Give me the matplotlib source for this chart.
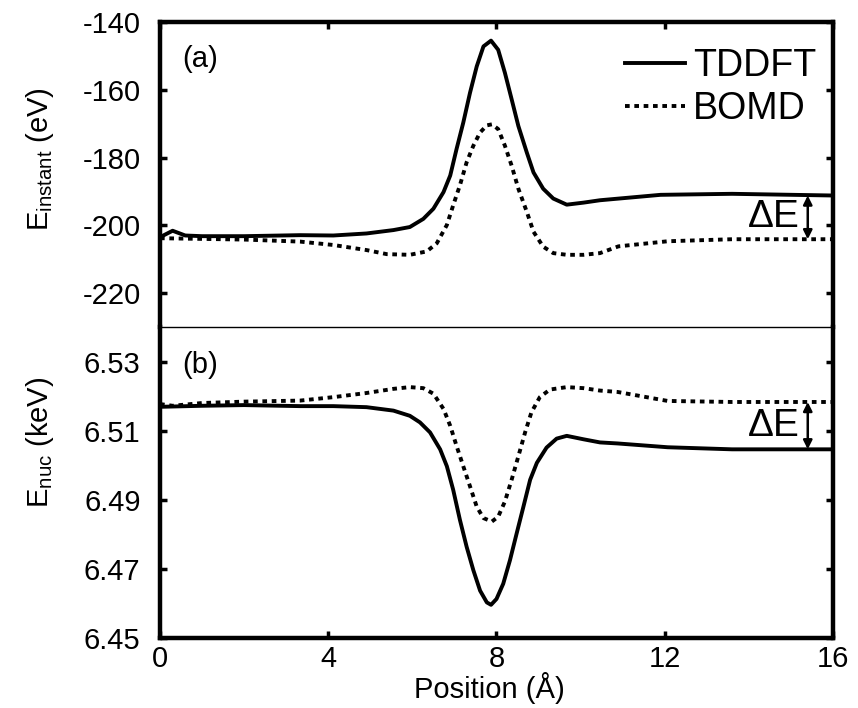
import numpy as np
import matplotlib
matplotlib.use("Agg")
import matplotlib.pyplot as plt

plt.rcParams['font.family'] = ['Liberation Sans', 'DejaVu Sans']
plt.rcParams['mathtext.fontset'] = 'custom'
plt.rcParams['mathtext.rm'] = 'Liberation Sans'
plt.rcParams['mathtext.it'] = 'Liberation Sans:italic'

# (a) instantaneous energy, eV
pos_a_td = [0, 0.3, 0.6, 1, 2, 3.33, 4.12, 4.91, 5.55, 5.94, 6.26, 6.50, 6.74,
            6.90, 7.05, 7.21, 7.37, 7.53, 7.69, 7.87, 8.04, 8.20, 8.36, 8.52,
            8.72, 8.88, 9.11, 9.35, 9.67, 10.07, 10.46, 11.9, 13.6, 16]
e_a_td = [-203.5, -201.6, -203.0, -203.2, -203.2, -202.9, -203.0, -202.4, -201.4,
          -200.5, -198.1, -195.1, -190.2, -185.3, -177.5, -169.7, -160.9, -153.1,
          -147.2, -145.5, -148.2, -155.0, -162.8, -170.7, -178.5, -184.4, -189.2,
          -192.1, -193.9, -193.3, -192.6, -191.0, -190.7, -191.2]

pos_a_bo = [0, 1, 2, 3.33, 4.12, 4.91, 5.39, 5.94, 6.34, 6.58, 6.82, 6.97, 7.13,
            7.29, 7.45, 7.61, 7.77, 7.89, 8.04, 8.20, 8.36, 8.52, 8.72, 8.88,
            9.11, 9.35, 9.67, 10.07, 10.46, 10.9, 12.07, 13.6, 16]
e_a_bo = [-203.8, -204.0, -204.2, -204.8, -205.8, -207.3, -208.5, -208.7, -207.7,
          -205.3, -199.9, -194.1, -188.2, -181.4, -176.5, -172.6, -170.5, -170.2,
          -171.6, -176.5, -182.4, -189.2, -196.0, -201.9, -206.3, -208.2, -208.7,
          -208.7, -208.2, -206.2, -204.7, -204.1, -204.1]

# (b) nuclear kinetic energy, keV
pos_b_td = [0, 1, 2, 3.33, 4.12, 4.91, 5.55, 5.94, 6.18, 6.42, 6.66, 6.82, 6.97,
            7.13, 7.29, 7.45, 7.61, 7.77, 7.87, 8.00, 8.16, 8.32, 8.48, 8.64,
            8.80, 8.96, 9.19, 9.43, 9.67, 10.07, 10.46, 10.88, 12.07, 13.6, 16]
e_b_td = [6.5169, 6.5172, 6.5174, 6.5171, 6.5171, 6.5168, 6.5158, 6.5143, 6.5124,
          6.5095, 6.5046, 6.4997, 6.4929, 6.4842, 6.4764, 6.4696, 6.4637, 6.4603,
          6.4596, 6.4613, 6.4657, 6.4725, 6.4803, 6.4880, 6.4958, 6.5007, 6.5051,
          6.5077, 6.5085, 6.5075, 6.5066, 6.5063, 6.5052, 6.5046, 6.5046]

pos_b_bo = [0, 0.3, 1, 2, 3.33, 4.12, 4.91, 5.55, 5.94, 6.26, 6.50, 6.74, 6.90,
            7.05, 7.21, 7.37, 7.53, 7.69, 7.89, 8.04, 8.20, 8.36, 8.52, 8.68,
            8.83, 9.03, 9.27, 9.67, 10.07, 10.46, 10.88, 12.07, 13.6, 16]
e_b_bo = [6.5177, 6.5172, 6.5180, 6.5184, 6.5187, 6.5197, 6.5209, 6.5221, 6.5226,
          6.5223, 6.5207, 6.5163, 6.5114, 6.5056, 6.4997, 6.4939, 6.4880, 6.4847,
          6.4837, 6.4851, 6.4895, 6.4958, 6.5026, 6.5095, 6.5153, 6.5197, 6.5219,
          6.5226, 6.5223, 6.5216, 6.5212, 6.5186, 6.5183, 6.5183]

xticks = [0, 4, 8, 12, 16]
yticks_a = [-220, -200, -180, -160, -140]
yticks_b = [6.45, 6.47, 6.49, 6.51, 6.53]

LW = 2.8
DOT = (0, (1.2, 1.2))
TICK_FS = 21

fig = plt.figure(figsize=(8.58, 7.08), dpi=100)
ax1 = fig.add_axes([0.18648, 0.53814, 0.78438, 0.43079])
ax2 = fig.add_axes([0.18648, 0.09887, 0.78438, 0.43927])

line_kw = dict(color='black', lw=LW, solid_joinstyle='round')
ax1.plot(pos_a_td, e_a_td, label='TDDFT', **line_kw)
ax1.plot(pos_a_bo, e_a_bo, ls=DOT, dash_capstyle='butt', label='BOMD', **line_kw)
ax2.plot(pos_b_td, e_b_td, **line_kw)
ax2.plot(pos_b_bo, e_b_bo, ls=DOT, dash_capstyle='butt', **line_kw)

ax1.set_xlim(0, 16)
ax2.set_xlim(0, 16)
ax1.set_ylim(-230, -140)
ax2.set_ylim(6.45, 6.54)

ax1.set_xticks(xticks)
ax2.set_xticks(xticks)
ax1.set_yticks(yticks_a)
ax1.set_yticklabels([str(v) for v in yticks_a])
ax2.set_yticks(yticks_b)
ax2.set_yticklabels(["%.2f" % v for v in yticks_b])

for ax in (ax1, ax2):
    for s in ax.spines.values():
        s.set_linewidth(3.2)
    ax.tick_params(direction='in', length=5, width=2.5, labelsize=TICK_FS,
                   left=True, right=True, pad=14)
# thin separator between the panels
ax1.spines['bottom'].set_visible(False)
ax2.spines['top'].set_linewidth(1.0)
ax1.tick_params(axis='x', top=True, bottom=False, labelbottom=False)
ax2.tick_params(axis='x', top=False, bottom=True, pad=5)

ax1.set_ylabel(r'E$_{\mathrm{instant}}$ (eV)', fontsize=21)
ax1.yaxis.set_label_coords(-0.155, 0.55)
ax2.set_ylabel(r'E$_{\mathrm{nuc}}$ (keV)', fontsize=21)
ax2.yaxis.set_label_coords(-0.155, 0.63)
ax2.set_xlabel(u'Position (\u00c5)', fontsize=21)
ax2.xaxis.set_label_coords(0.49, -0.109)

ax1.text(0.52, 0.88, '(a)', transform=ax1.get_xaxis_transform(), fontsize=21, va='center')
ax2.text(0.52, 0.878, '(b)', transform=ax2.get_xaxis_transform(), fontsize=21, va='center')

ax1.legend(loc='upper right', bbox_to_anchor=(0.975, 0.915), frameon=False,
           fontsize=27, handlelength=1.6, handletextpad=0.2, labelspacing=0.2,
           borderpad=0, borderaxespad=0)

# energy gap between the two runs at the end of the trajectory
for ax, td, bo in ((ax1, e_a_td, e_a_bo), (ax2, e_b_td, e_b_bo)):
    ax.annotate('', xy=(15.4, td[-1]), xytext=(15.4, bo[-1]),
                arrowprops=dict(arrowstyle='<|-|>', color='black', lw=1.8,
                                mutation_scale=13, shrinkA=0, shrinkB=0))
    ax.text(15.22, (td[-1] + bo[-1]) / 2, u'\u0394E', fontsize=28,
            ha='right', va='center')

fig.savefig('out.png', dpi=100)
